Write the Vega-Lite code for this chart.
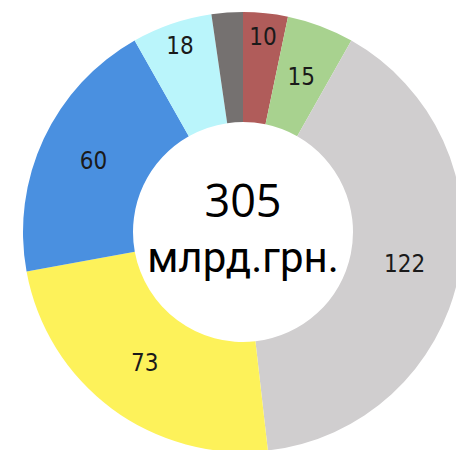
{
  "$schema": "https://vega.github.io/schema/vega-lite/v6.json",
  "width": 486,
  "height": 464,
  "autosize": "none",
  "padding": 0,
  "background": "white",
  "view": {"stroke": null},
  "datasets": {
    "slices": [
      {"i": 1, "cat": "A", "value": 10},
      {"i": 2, "cat": "B", "value": 15},
      {"i": 3, "cat": "C", "value": 122},
      {"i": 4, "cat": "D", "value": 73},
      {"i": 5, "cat": "E", "value": 60},
      {"i": 6, "cat": "F", "value": 18},
      {"i": 7, "cat": "G", "value": 7}
    ],
    "center": [{"line1": "305", "line2": "млрд.грн."}]
  },
  "layer": [
    {
      "data": {"name": "slices"},
      "mark": {"type": "arc", "radius": 220, "radius2": 110},
      "encoding": {
        "theta": {"field": "value", "type": "quantitative", "stack": true},
        "order": {"field": "i", "type": "quantitative"},
        "color": {
          "field": "cat",
          "type": "nominal",
          "legend": null,
          "scale": {
            "domain": ["A", "B", "C", "D", "E", "F", "G"],
            "range": ["#b05c5a", "#a8d28f", "#d0cecf", "#fdf25a", "#4a90e0", "#baf5fb", "#757170"]
          }
        }
      }
    },
    {
      "data": {"name": "slices"},
      "mark": {"type": "text", "radius": 165, "font": "'DejaVu Sans Condensed', Roboto, sans-serif", "fontSize": 24, "fontWeight": 300, "color": "#1a1a1a", "baseline": "middle"},
      "encoding": {
        "theta": {"field": "value", "type": "quantitative", "stack": true},
        "order": {"field": "i", "type": "quantitative"},
        "text": {"condition": {"test": "datum.value == 10 || datum.value == 18 || datum.value == 7", "value": ""}, "field": "value", "type": "quantitative"}
      }
    },
    {
      "data": {"name": "slices"},
      "mark": {"type": "text", "radius": 195, "font": "'DejaVu Sans Condensed', Roboto, sans-serif", "fontSize": 24, "fontWeight": 300, "color": "#1a1a1a", "baseline": "middle"},
      "encoding": {
        "theta": {"field": "value", "type": "quantitative", "stack": true},
        "order": {"field": "i", "type": "quantitative"},
        "text": {"condition": {"test": "datum.value == 10 || datum.value == 18", "field": "value", "type": "quantitative"}, "value": ""}
      }
    },
    {
      "data": {"name": "center"},
      "mark": {"type": "text", "font": "Open Sans", "fontSize": 45, "color": "#000000", "baseline": "alphabetic", "dy": -15},
      "encoding": {"text": {"field": "line1"}}
    },
    {
      "data": {"name": "center"},
      "mark": {"type": "text", "font": "Roboto", "fontSize": 42, "fontWeight": 400, "color": "#000000", "baseline": "alphabetic", "dy": 40},
      "encoding": {"text": {"field": "line2"}}
    }
  ]
}
